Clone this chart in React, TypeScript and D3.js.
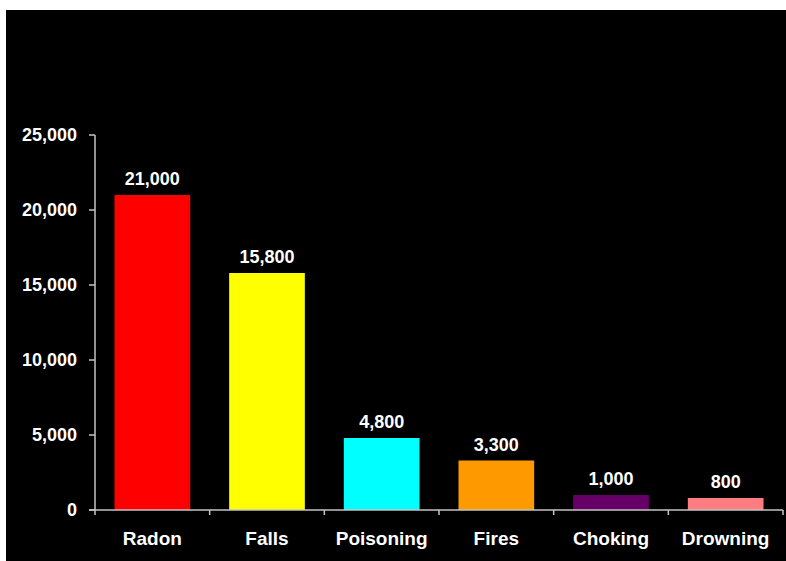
import React from "react";
import * as d3 from "d3";

const categories = ["Radon", "Falls", "Poisoning", "Fires", "Choking", "Drowning"];
const values = [21000, 15800, 4800, 3300, 1000, 800];
const colors = ["#FF0000", "#FFFF00", "#00FFFF", "#FF9900", "#660066", "#FF7C80"];
const yTicks = [0, 5000, 10000, 15000, 20000, 25000];

const W = 786;
const H = 561;
const left = 95;
const right = 783;
const top = 135;
const bottom = 510;
const font = "'Liberation Sans', Arial, Helvetica, sans-serif";
const axisColor = "#c4c4c4";

export default function App() {
  const x = d3.scaleBand<string>().domain(categories).range([left, right]).paddingInner(0.34).paddingOuter(0.17);
  const y = d3.scaleLinear().domain([0, 25000]).range([bottom, top]);
  const fmt = d3.format(",");
  const step = x.step();
  const bounds = d3.range(categories.length + 1).map((i) => left + i * step);

  return (
    <svg width={W} height={H} style={{ position: "absolute", left: 0, top: 0, display: "block" }}>
      <rect x={0} y={0} width={W} height={H} fill="#ffffff" />
      <rect x={6} y={10} width={W - 6} height={H - 10} fill="#000000" />
      {categories.map((c, i) => (
        <g key={c}>
          <rect x={x(c)} y={y(values[i])} width={x.bandwidth()} height={y(0) - y(values[i])} fill={colors[i]} />
          <text
            x={(x(c) as number) + x.bandwidth() / 2}
            y={y(values[i]) - 10}
            textAnchor="middle"
            fill="#ffffff"
            fontFamily={font}
            fontWeight="bold"
            fontSize={18}
          >
            {fmt(values[i])}
          </text>
          <text
            x={(x(c) as number) + x.bandwidth() / 2}
            y={545}
            textAnchor="middle"
            fill="#ffffff"
            fontFamily={font}
            fontWeight="bold"
            fontSize={19}
          >
            {c}
          </text>
        </g>
      ))}
      <line x1={left} x2={left} y1={top} y2={bottom} stroke={axisColor} strokeWidth={1.5} />
      <line x1={89} x2={right} y1={bottom} y2={bottom} stroke={axisColor} strokeWidth={1.5} />
      {yTicks.map((t) => (
        <g key={t}>
          <line x1={89} x2={left} y1={y(t)} y2={y(t)} stroke={axisColor} strokeWidth={1.5} />
          <text
            x={77}
            y={y(t)}
            dy="0.36em"
            textAnchor="end"
            fill="#ffffff"
            fontFamily={font}
            fontWeight="bold"
            fontSize={18}
          >
            {fmt(t)}
          </text>
        </g>
      ))}
      {bounds.map((b, i) => (
        <line key={i} x1={b} x2={b} y1={bottom} y2={bottom + 5} stroke={axisColor} strokeWidth={1.5} />
      ))}
    </svg>
  );
}
